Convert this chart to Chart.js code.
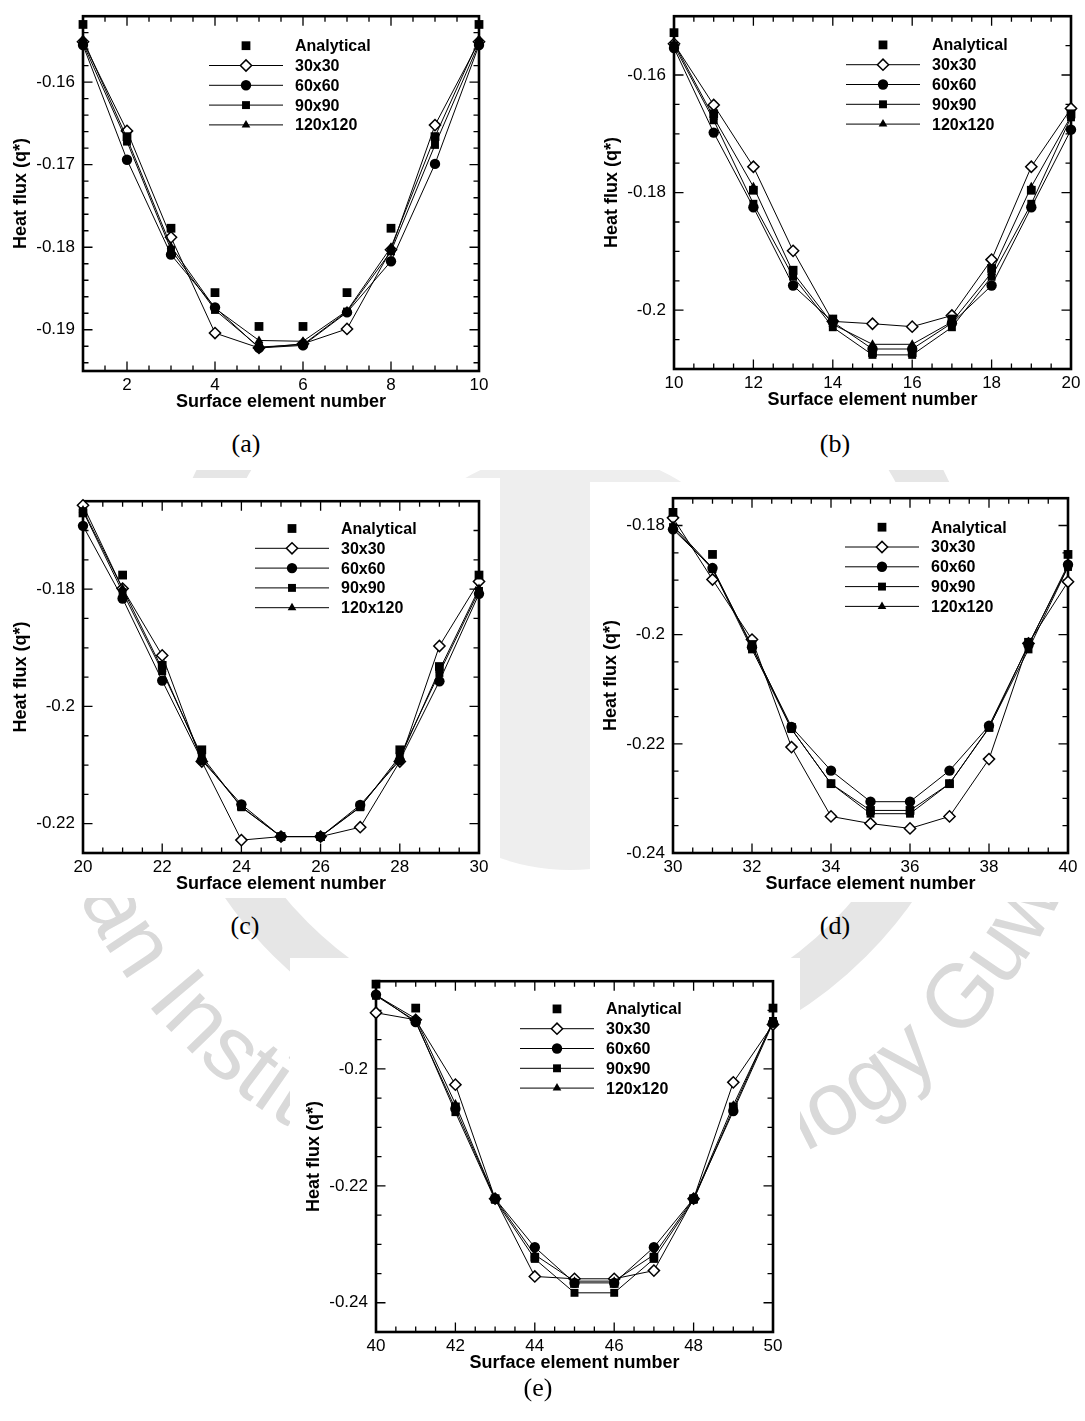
<!DOCTYPE html>
<html>
<head>
<meta charset="utf-8">
<title>Heat flux along the surface elements</title>
<script src="https://cdn.jsdelivr.net/npm/chart.js@4/dist/chart.umd.min.js"></script>
<style>
  body { margin: 0; background: #fff; }
  #page { position: relative; width: 1085px; height: 1421px; overflow: hidden; background: #fff; }
  #page canvas { position: absolute; }
  #mark { position: absolute; left: 0; top: 0; }
  .sheet { position: absolute; background: #fff; }
  .tag {
    position: absolute;
    transform: translate(-50%, -50%);
    font-family: "Liberation Serif", "Times New Roman", serif;
    font-size: 26px;
    color: #000;
  }
</style>
</head>
<body>
<div id="page">
  <!-- faint institute seal behind the figure -->
  <svg id="mark" width="1085" height="1421" viewBox="0 0 1085 1421">
    <defs>
      <path id="sealText" d="M 57.9 473.6 A 545 545 0 1 0 1082.1 473.6"/>
    </defs>
    <circle cx="570" cy="660" r="395" fill="none" stroke="#e6e6e6" stroke-width="48"/>
    <circle cx="570" cy="660" r="210" fill="#eeeeee"/>
    <text font-family="Liberation Sans, Arial, sans-serif" font-size="90" fill="#d9d9d9">
      <textPath href="#sealText" startOffset="290">Indian Institute of Technology Guwahati</textPath>
    </text>
  </svg>
  <div class="sheet" style="left:0;top:0;width:1085px;height:470px"></div>
  <div class="sheet" style="left:0;top:478px;width:500px;height:420px"></div>
  <div class="sheet" style="left:590px;top:482px;width:495px;height:420px"></div>
  <div class="sheet" style="left:290px;top:958px;width:510px;height:463px"></div>
</div>

<script>
// ---- data -------------------------------------------------------------
const seriesNames = ['Analytical', '30x30', '60x60', '90x90', '120x120'];

// (a) surface elements 1-10
const elementsA   = [1, 2, 3, 4, 5, 6, 7, 8, 9, 10];
const analyticalA = [-0.1530, -0.1666, -0.1777, -0.1855, -0.1896, -0.1896, -0.1855, -0.1777, -0.1666, -0.1530];
const mesh30A     = [-0.1551, -0.1659, -0.1788, -0.1904, -0.1922, -0.1917, -0.1899, -0.1803, -0.1652, -0.1551];
const mesh60A     = [-0.1555, -0.1694, -0.1809, -0.1873, -0.1922, -0.1919, -0.1879, -0.1817, -0.1699, -0.1555];
const mesh90A     = [-0.1553, -0.1672, -0.1803, -0.1876, -0.1921, -0.1918, -0.1878, -0.1805, -0.1676, -0.1553];
const mesh120A    = [-0.1548, -0.1668, -0.1799, -0.1874, -0.1913, -0.1914, -0.1877, -0.1800, -0.1666, -0.1548];

// (b) surface elements 10-20
const elementsB   = [10, 11, 12, 13, 14, 15, 16, 17, 18, 19, 20];
const analyticalB = [-0.1528, -0.1666, -0.1796, -0.1932, -0.2015, -0.2072, -0.2072, -0.2015, -0.1929, -0.1796, -0.1666];
const mesh30B     = [-0.1547, -0.1651, -0.1756, -0.1899, -0.2019, -0.2023, -0.2028, -0.2009, -0.1914, -0.1756, -0.1657];
const mesh60B     = [-0.1554, -0.1698, -0.1825, -0.1958, -0.2020, -0.2066, -0.2066, -0.2022, -0.1958, -0.1825, -0.1693];
const mesh90B     = [-0.1550, -0.1677, -0.1819, -0.1943, -0.2029, -0.2076, -0.2076, -0.2029, -0.1943, -0.1819, -0.1672];
const mesh120B    = [-0.1546, -0.1672, -0.1790, -0.1936, -0.2024, -0.2058, -0.2058, -0.2020, -0.1936, -0.1790, -0.1670];

// (c) surface elements 20-30
const elementsC   = [20, 21, 22, 23, 24, 25, 26, 27, 28, 29, 30];
const analyticalC = [-0.1670, -0.1776, -0.1930, -0.2074, -0.2170, -0.2222, -0.2222, -0.2170, -0.2074, -0.1932, -0.1776];
const mesh30C     = [-0.1657, -0.1799, -0.1913, -0.2094, -0.2228, -0.2222, -0.2222, -0.2206, -0.2094, -0.1897, -0.1787];
const mesh60C     = [-0.1692, -0.1816, -0.1956, -0.2092, -0.2167, -0.2222, -0.2222, -0.2168, -0.2092, -0.1957, -0.1808];
const mesh90C     = [-0.1667, -0.1805, -0.1940, -0.2085, -0.2172, -0.2222, -0.2222, -0.2172, -0.2085, -0.1943, -0.1803];
const mesh120C    = [-0.1665, -0.1799, -0.1936, -0.2089, -0.2171, -0.2222, -0.2222, -0.2171, -0.2089, -0.1938, -0.1799];

// (d) surface elements 30-40
const elementsD   = [30, 31, 32, 33, 34, 35, 36, 37, 38, 39, 40];
const analyticalD = [-0.1776, -0.1853, -0.2018, -0.2170, -0.2273, -0.2322, -0.2322, -0.2273, -0.2170, -0.2014, -0.1853];
const mesh30D     = [-0.1786, -0.1899, -0.2009, -0.2206, -0.2333, -0.2346, -0.2355, -0.2333, -0.2228, -0.2016, -0.1903];
const mesh60D     = [-0.1807, -0.1878, -0.2023, -0.2169, -0.2249, -0.2306, -0.2306, -0.2249, -0.2167, -0.2019, -0.1872];
const mesh90D     = [-0.1803, -0.1880, -0.2027, -0.2173, -0.2273, -0.2328, -0.2328, -0.2273, -0.2170, -0.2027, -0.1876];
const mesh120D    = [-0.1800, -0.1878, -0.2021, -0.2173, -0.2273, -0.2322, -0.2322, -0.2273, -0.2171, -0.2018, -0.1875];

// (e) surface elements 40-50
const elementsE   = [40, 41, 42, 43, 44, 45, 46, 47, 48, 49, 50];
const analyticalE = [-0.1855, -0.1896, -0.2065, -0.2222, -0.2322, -0.2367, -0.2367, -0.2322, -0.2222, -0.2065, -0.1896];
const mesh30E     = [-0.1904, -0.1916, -0.2027, -0.2222, -0.2355, -0.2359, -0.2359, -0.2345, -0.2222, -0.2023, -0.1924];
const mesh60E     = [-0.1873, -0.1920, -0.2068, -0.2222, -0.2305, -0.2366, -0.2366, -0.2305, -0.2222, -0.2072, -0.1921];
const mesh90E     = [-0.1875, -0.1918, -0.2074, -0.2224, -0.2325, -0.2383, -0.2383, -0.2325, -0.2224, -0.2068, -0.1918];
const mesh120E    = [-0.1874, -0.1914, -0.2060, -0.2222, -0.2318, -0.2363, -0.2363, -0.2318, -0.2222, -0.2062, -0.1919];

// axis tick labels
const xTicksA = [2, 4, 6, 8, 10];
const xTicksB = [10, 12, 14, 16, 18, 20];
const xTicksC = [20, 22, 24, 26, 28, 30];
const xTicksD = [30, 32, 34, 36, 38, 40];
const xTicksE = [40, 42, 44, 46, 48, 50];
const yTicksA = [-0.19, -0.18, -0.17, -0.16];
const yTicksB = [-0.2, -0.18, -0.16];
const yTicksC = [-0.22, -0.2, -0.18];
const yTicksD = [-0.24, -0.22, -0.2, -0.18];
const yTicksE = [-0.24, -0.22, -0.2];

// ---- look ---------------------------------------------------------------
const sans = '"Liberation Sans", Arial, Helvetica, sans-serif';
Chart.defaults.font.family = sans;
Chart.defaults.font.size = 17;
Chart.defaults.color = '#000';

// marker per series, in the order of seriesNames
const markers = [
  { pointStyle: 'rect',     radius: 6.2, fill: '#000', border: 0,   line: false },
  { pointStyle: 'rectRot',  radius: 5.6, fill: '#fff', border: 1.5, line: true  },
  { pointStyle: 'circle',   radius: 5.2, fill: '#000', border: 0,   line: true  },
  { pointStyle: 'rect',     radius: 5.6, fill: '#000', border: 0,   line: true  },
  { pointStyle: 'triangle', radius: 5.0, fill: '#000', border: 0,   line: true  }
];

// chart areas in page pixels [left, top, right, bottom]
const panels = [
  { tag: '(a)', tagAt: [246, 444],  area: [83, 8, 479, 371],     xs: elementsA,
    ys: [analyticalA, mesh30A, mesh60A, mesh90A, mesh120A], xRange: [1, 10],  yRange: [-0.195, -0.152],
    xTicks: xTicksA, yTicks: yTicksA, yMinor: 0.002, legendAt: [126, 29.5] },
  { tag: '(b)', tagAt: [835, 444],  area: [674, 8, 1071, 369],   xs: elementsB,
    ys: [analyticalB, mesh30B, mesh60B, mesh90B, mesh120B], xRange: [10, 20], yRange: [-0.21, -0.15],
    xTicks: xTicksB, yTicks: yTicksB, yMinor: 0.005, legendAt: [172, 28.7] },
  { tag: '(c)', tagAt: [245, 926],  area: [83, 493, 479, 853],   xs: elementsC,
    ys: [analyticalC, mesh30C, mesh60C, mesh90C, mesh120C], xRange: [20, 30], yRange: [-0.225, -0.165],
    xTicks: xTicksC, yTicks: yTicksC, yMinor: 0.005, legendAt: [172, 27.3] },
  { tag: '(d)', tagAt: [835, 926],  area: [673, 490, 1068, 853], xs: elementsD,
    ys: [analyticalD, mesh30D, mesh60D, mesh90D, mesh120D], xRange: [30, 40], yRange: [-0.24, -0.175],
    xTicks: xTicksD, yTicks: yTicksD, yMinor: 0.005, legendAt: [172, 29] },
  { tag: '(e)', tagAt: [538, 1388], area: [376, 973, 773, 1332], xs: elementsE,
    ys: [analyticalE, mesh30E, mesh60E, mesh90E, mesh120E], xRange: [40, 50], yRange: [-0.245, -0.185],
    xTicks: xTicksE, yTicks: yTicksE, yMinor: 0.005, legendAt: [144, 27.7] }
];

// ---- plugins ------------------------------------------------------------
function minorValues(min, max, step) {
  const out = [];
  for (let k = Math.ceil(min / step - 1e-6); k <= Math.floor(max / step + 1e-6); k++) out.push(k * step);
  return out;
}
const isMajor = (v, list) => list.some(m => Math.abs(m - v) < 1e-7);

// box round the plot with ticks pointing inwards on all four sides
const framePlugin = {
  id: 'frame',
  beforeDatasetsDraw(chart, args, o) {
    const { ctx, chartArea: a, scales: { x, y } } = chart;
    ctx.save();
    ctx.strokeStyle = '#000';
    ctx.lineWidth = 1.3;
    ctx.beginPath();
    for (const v of minorValues(x.min, x.max, 0.5)) {
      const px = x.getPixelForValue(v);
      const len = isMajor(v, o.xTicks) ? 9.5 : 5.5;
      ctx.moveTo(px, a.bottom); ctx.lineTo(px, a.bottom - len);
      ctx.moveTo(px, a.top);    ctx.lineTo(px, a.top + len);
    }
    for (const v of minorValues(y.min, y.max, o.yMinor)) {
      const py = y.getPixelForValue(v);
      const len = isMajor(v, o.yTicks) ? 9.5 : 5.5;
      ctx.moveTo(a.left, py);  ctx.lineTo(a.left + len, py);
      ctx.moveTo(a.right, py); ctx.lineTo(a.right - len, py);
    }
    ctx.stroke();
    ctx.lineWidth = 2.6;
    ctx.strokeRect(a.left, a.top, a.right - a.left, a.bottom - a.top);
    ctx.restore();
  }
};

function drawMarker(ctx, m, x, y) {
  ctx.fillStyle = m.fill;
  ctx.strokeStyle = '#000';
  ctx.lineWidth = m.border;
  if (Chart.helpers && Chart.helpers.drawPoint) {
    Chart.helpers.drawPoint(ctx, { pointStyle: m.pointStyle, radius: m.radius, rotation: 0, borderWidth: m.border }, x, y);
    return;
  }
  ctx.beginPath();
  ctx.arc(x, y, m.radius, 0, Math.PI * 2);
  ctx.fill();
}

// legend block inside the plot: sample line, marker, bold name
const legendPlugin = {
  id: 'meshLegend',
  afterDraw(chart, args, o) {
    const { ctx, chartArea: a } = chart;
    const x0 = a.left + o.at[0];
    ctx.save();
    ctx.font = 'bold 16px ' + sans;
    ctx.textBaseline = 'middle';
    ctx.textAlign = 'left';
    seriesNames.forEach((name, i) => {
      const yy = a.top + o.at[1] + i * 19.8;
      const m = markers[i];
      if (m.line) {
        ctx.strokeStyle = '#000';
        ctx.lineWidth = 1;
        ctx.beginPath();
        ctx.moveTo(x0, yy); ctx.lineTo(x0 + 74, yy);
        ctx.stroke();
      }
      drawMarker(ctx, m, x0 + 37, yy);
      ctx.fillStyle = '#000';
      ctx.fillText(name, x0 + 86, yy + 1);
    });
    ctx.restore();
  }
};

// ---- charts -------------------------------------------------------------
const page = document.getElementById('page');
const Y_SPACE = 83, TOP_PAD = 10, RIGHT_PAD = 14, X_SPACE = 52;

panels.forEach(p => {
  const [l, t, r, b] = p.area;
  const canvas = document.createElement('canvas');
  canvas.width = (r - l) + Y_SPACE + RIGHT_PAD;
  canvas.height = (b - t) + TOP_PAD + X_SPACE;
  canvas.style.left = (l - Y_SPACE) + 'px';
  canvas.style.top = (t - TOP_PAD) + 'px';
  page.appendChild(canvas);

  const tag = document.createElement('div');
  tag.className = 'tag';
  tag.textContent = p.tag;
  tag.style.left = p.tagAt[0] + 'px';
  tag.style.top = p.tagAt[1] + 'px';
  page.appendChild(tag);

  const datasets = seriesNames.map((name, i) => {
    const m = markers[i];
    return {
      label: name,
      data: p.xs.map((x, k) => ({ x: x, y: p.ys[i][k] })),
      showLine: m.line,
      borderColor: '#000',
      borderWidth: 1,
      tension: 0,
      pointStyle: m.pointStyle,
      pointRadius: m.radius,
      pointBackgroundColor: m.fill,
      pointBorderColor: '#000',
      pointBorderWidth: m.border,
      clip: false,
      order: i === 0 ? 0 : 5 - i
    };
  });

  const tickFont = { family: sans, size: 17 };
  const titleFont = { family: sans, size: 18, weight: 'bold' };

  new Chart(canvas, {
    type: 'line',
    data: { datasets },
    plugins: [framePlugin, legendPlugin],
    options: {
      responsive: false,
      animation: false,
      events: [],
      layout: { padding: { left: 0, top: TOP_PAD, right: RIGHT_PAD, bottom: 0 } },
      plugins: {
        legend: { display: false },
        tooltip: { enabled: false },
        frame: { xTicks: p.xTicks, yTicks: p.yTicks, yMinor: p.yMinor },
        meshLegend: { at: p.legendAt }
      },
      scales: {
        x: {
          type: 'linear',
          min: p.xRange[0], max: p.xRange[1],
          afterBuildTicks: s => { s.ticks = p.xTicks.map(v => ({ value: v })); },
          afterFit: s => { s.height = X_SPACE; },
          grid: { display: false, drawTicks: false },
          border: { display: false },
          ticks: { font: tickFont, color: '#000', padding: 4, autoSkip: false, maxRotation: 0,
                   callback: v => String(v) },
          title: { display: true, text: 'Surface element number', font: titleFont, color: '#000',
                   padding: { top: 0, bottom: 10 } }
        },
        y: {
          type: 'linear',
          min: p.yRange[0], max: p.yRange[1],
          afterBuildTicks: s => { s.ticks = p.yTicks.map(v => ({ value: v })); },
          afterFit: s => { s.width = Y_SPACE; },
          grid: { display: false, drawTicks: false },
          border: { display: false },
          ticks: { font: tickFont, color: '#000', padding: 8, autoSkip: false,
                   callback: v => String(Math.round(v * 1000) / 1000) },
          title: { display: true, text: 'Heat flux (q*)', font: titleFont, color: '#000',
                   padding: { top: 10, bottom: 0 } }
        }
      }
    }
  });
});
</script>
</body>
</html>
